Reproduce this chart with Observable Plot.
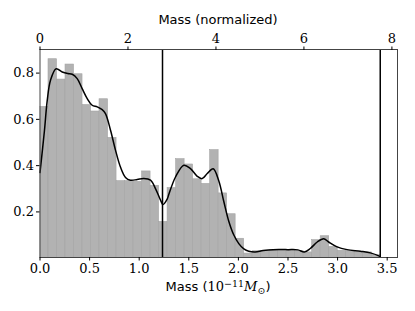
<!DOCTYPE html>
<html><head><meta charset="utf-8">
<script src="https://cdn.jsdelivr.net/npm/d3@7"></script>
<script src="https://cdn.jsdelivr.net/npm/@observablehq/plot@0.6"></script>
<style>
body{margin:0;background:#fff}
#wrap{position:relative;width:415px;height:311px}
#wrap svg text{font-family:"DejaVu Serif",serif !important;font-size:13px !important}
.lab{position:absolute;font-family:"DejaVu Sans",sans-serif;font-size:13px;color:#000;white-space:nowrap;transform:translate(-50%,-50%);line-height:14px}
.m{font-family:"DejaVu Serif",serif;font-size:13px}
.m sup,.m sub{font-size:9.5px;line-height:0;position:relative}
.m sup{vertical-align:baseline;top:-0.45em}
.m sub{vertical-align:baseline;top:0.3em}
</style>
</head><body>
<div id="wrap"></div>
<script>
// histogram (40 equal bins starting at 0)
const binWidth = 0.08575;
const binValues = [0.654,0.860,0.772,0.837,0.795,0.662,0.634,0.687,0.520,0.333,
  0.333,0.330,0.375,0.313,0.157,0.303,0.428,0.405,0.341,0.321,
  0.467,0.280,0.190,0.084,0.020,0.030,0.032,0.034,0.034,0.033,
  0.030,0.025,0.078,0.095,0.049,0.032,0.030,0.025,0.025,0.013];
// smooth density curve
const kdeMass = [0,0.045,0.073,0.106,0.163,0.224,0.280,0.325,0.375,0.425,0.476,0.526,0.577,0.627,0.660,0.711,0.761,0.811,0.862,0.912,0.980,1.046,1.114,1.164,1.215,1.240,1.282,1.298,1.366,1.450,1.517,1.585,1.635,1.686,1.746,1.802,1.853,1.903,1.954,2.004,2.055,2.105,2.17,2.25,2.35,2.50,2.60,2.665,2.725,2.795,2.86,2.91,2.995,3.095,3.23,3.33,3.415,3.43];
const kdeDensity = [0.37,0.552,0.682,0.769,0.819,0.805,0.798,0.795,0.776,0.733,0.690,0.661,0.654,0.642,0.625,0.553,0.467,0.394,0.349,0.337,0.34,0.344,0.337,0.301,0.251,0.232,0.255,0.275,0.351,0.402,0.387,0.354,0.344,0.366,0.387,0.335,0.245,0.160,0.100,0.063,0.040,0.030,0.027,0.033,0.037,0.037,0.036,0.027,0.042,0.070,0.084,0.070,0.049,0.037,0.030,0.023,0.010,0.006];
const vlines = [1.235, 3.43];
const bottomTicks = [0,0.5,1.0,1.5,2.0,2.5,3.0,3.5];
const leftTicks = [0.2,0.4,0.6,0.8];
const topTicks = [0,2,4,6,8];
const normFactor = 2.255;

const bins = binValues.map((v,i)=>({x1:i*binWidth, x2:(i+1)*binWidth, v}));
const kde = kdeMass.map((m,i)=>({m, d:kdeDensity[i]}));
const serif = '"DejaVu Serif", serif';

const chart = Plot.plot({
  width:415, height:311,
  marginLeft:39.5, marginRight:18, marginTop:49, marginBottom:54,
  style:{fontFamily:serif, fontSize:"13px", color:"#000", background:"#fff"},
  x:{domain:[0,3.604]},
  y:{domain:[0.003,0.902]},
  marks:[
    Plot.rectY(bins,{x1:"x1",x2:"x2",y1:0,y2:"v",fill:"#b2b2b2",stroke:"#a4a4a4",strokeWidth:0.6,inset:0,clip:true}),
    Plot.line(kde,{x:"m",y:"d",stroke:"#000",strokeWidth:1.5,curve:"catmull-rom"}),
    Plot.ruleX(vlines,{stroke:"#000",strokeWidth:1.5}),
    Plot.frame({stroke:"#444",strokeWidth:1}),
    Plot.axisX(bottomTicks,{anchor:"bottom",tickSize:3.5,tickPadding:3,tickFormat:d=>d.toFixed(1),label:null}),
    Plot.axisX(topTicks.map(t=>t/normFactor),{anchor:"top",tickSize:3.5,tickPadding:3,tickFormat:d=>String(Math.round(d*normFactor)),label:null}),
    Plot.axisY(leftTicks,{anchor:"left",tickSize:3.5,tickPadding:2.5,tickFormat:d=>d.toFixed(1),label:null})
  ]
});
const wrap = document.getElementById("wrap");
wrap.appendChild(chart);
const topLab = document.createElement("div");
topLab.className="lab"; topLab.style.left="218px"; topLab.style.top="20px";
topLab.textContent="Mass (normalized)";
wrap.appendChild(topLab);
const botLab = document.createElement("div");
botLab.className="lab"; botLab.style.left="218px"; botLab.style.top="287px";
botLab.innerHTML='Mass (<span class="m">10<sup>\u221211</sup><i>M</i><sub>\u2299</sub></span>)';
wrap.appendChild(botLab);
</script>
</body></html>
